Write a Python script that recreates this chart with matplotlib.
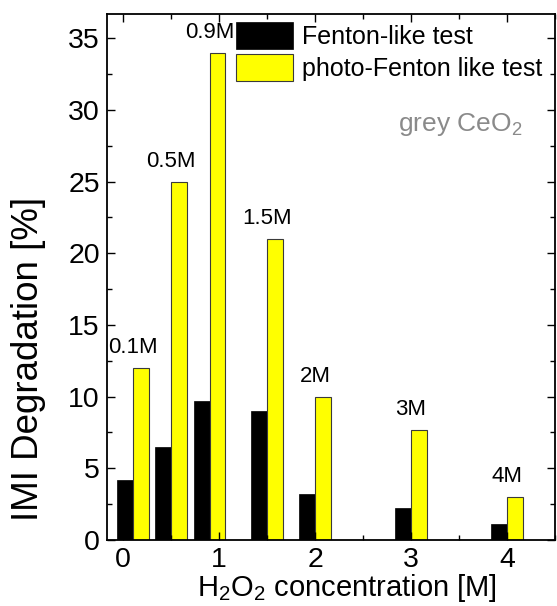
import matplotlib
matplotlib.use("Agg")
import matplotlib.pyplot as plt
import numpy as np
from matplotlib.ticker import MultipleLocator

# Data
concentrations = [0.1, 0.5, 0.9, 1.5, 2, 3, 4]
conc_labels = ["0.1M", "0.5M", "0.9M", "1.5M", "2M", "3M", "4M"]
fenton = [4.2, 6.5, 9.7, 9.0, 3.2, 2.2, 1.1]
photo_fenton = [12.0, 25.0, 34.0, 21.0, 10.0, 7.7, 3.0]
series_names = ["Fenton-like test", "photo-Fenton like test"]
xticks = [0, 1, 2, 3, 4]
yticks = [0, 5, 10, 15, 20, 25, 30, 35]

plt.rcParams['font.family'] = ['Liberation Sans', 'DejaVu Sans']
plt.rcParams['mathtext.fontset'] = 'custom'
plt.rcParams['mathtext.rm'] = 'Liberation Sans'
plt.rcParams['mathtext.it'] = 'Liberation Sans:italic'

fig = plt.figure(figsize=(5.57, 6.06), dpi=100)
ax = fig.add_axes([0.192, 0.109, 0.804, 0.868])

w = 0.165
x = np.array(concentrations)
ax.bar(x - w / 2, fenton, width=w, color='black', edgecolor='black',
       linewidth=0.5, label=series_names[0])
ax.bar(x + w / 2, photo_fenton, width=w, color='#ffff00', edgecolor='#3a3a3a',
       linewidth=0.8, label=series_names[1])

for xi, yi, lab in zip(concentrations, photo_fenton, conc_labels):
    ax.annotate(lab, (xi, yi), xytext=(0, 7), textcoords='offset points',
                ha='center', va='bottom', fontsize=16)

ax.set_xlim(-0.17, 4.5)
ax.set_ylim(0, 36.7)
ax.set_xticks(xticks)
ax.set_yticks(yticks)
ax.xaxis.set_minor_locator(MultipleLocator(0.5))
ax.yaxis.set_minor_locator(MultipleLocator(2.5))
ax.tick_params(which='both', direction='in', top=True, right=True, width=1.0)
ax.tick_params(which='major', length=6, labelsize=20.5)
ax.tick_params(which='minor', length=3.5)
ax.tick_params(axis='x', which='major', pad=5)
ax.tick_params(axis='y', which='major', pad=5)
for sp in ax.spines.values():
    sp.set_linewidth(1.3)

ax.set_xlabel("H$_2$O$_2$ concentration [M]", fontsize=21)
ax.xaxis.set_label_coords(0.536, -0.06)
ax.set_ylabel("IMI Degradation [%]", fontsize=26.5)
ax.yaxis.set_label_coords(-0.135, 0.345)

ax.text(0.788, 0.789, "grey CeO$_2$", transform=ax.transAxes, color='#8a8a8a',
        fontsize=19, ha='center', va='center')

leg = ax.legend(loc='upper left', bbox_to_anchor=(0.288, 0.985), frameon=False,
                fontsize=18, handlelength=2.3, handleheight=1.3,
                handletextpad=0.35, labelspacing=0.2, borderpad=0,
                borderaxespad=0)

fig.savefig("out.png", dpi=100)
